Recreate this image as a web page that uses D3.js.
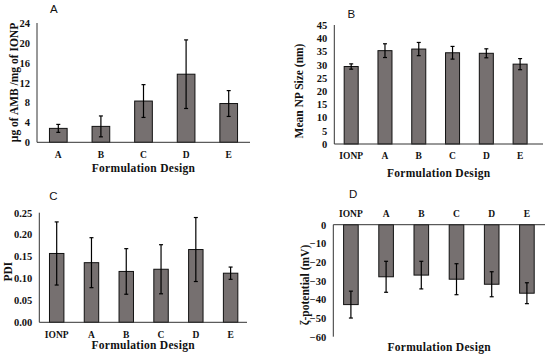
<!DOCTYPE html>
<html>
<head>
<meta charset="utf-8">
<script src="https://cdn.jsdelivr.net/npm/d3@7"></script>
<style>
  body { margin: 0; background: #fff; }
  svg { display: block; }
  .tick-y, .tick-x, .xtitle, .ytitle { font-family: "Liberation Serif", "Times New Roman", serif; font-weight: bold; fill: #111; }
  .letter { font-family: "Liberation Sans", Arial, sans-serif; fill: #111; }
</style>
</head>
<body>
<svg class="target" width="550" height="356"></svg>
<script>
// panel A: drug loading
const catsA = ["A", "B", "C", "D", "E"];
const loadA = [2.8, 3.2, 8.3, 13.7, 7.8];
const loadErrA = [0.8, 2.1, 3.3, 6.9, 2.6];
const ticksA = [0, 4, 8, 12, 16, 20, 24];

// panel B: mean NP size
const catsB = ["IONP", "A", "B", "C", "D", "E"];
const sizeB = [29.3, 35.3, 35.9, 34.5, 34.3, 30.2];
const sizeErrB = [1.0, 2.6, 2.5, 2.4, 1.7, 2.1];
const ticksB = [0, 5, 10, 15, 20, 25, 30, 35, 40, 45];

// panel C: PDI
const catsC = ["IONP", "A", "B", "C", "D", "E"];
const pdiC = [0.157, 0.136, 0.116, 0.121, 0.166, 0.112];
const pdiErrC = [0.072, 0.057, 0.052, 0.056, 0.073, 0.014];
const ticksC = [0, 0.05, 0.10, 0.15, 0.20, 0.25];

// panel D: zeta potential
const catsD = ["IONP", "A", "B", "C", "D", "E"];
const zetaD = [-42.8, -27.9, -27.0, -29.2, -31.9, -36.7];
const zetaErrD = [7.2, 8.3, 7.4, 8.3, 6.7, 5.6];
const ticksD = [0, -10, -20, -30, -40, -50, -60];

const svg = d3.select(".target");

function panel(opt) {
  const g = svg.append("g");
  const x = d3.scaleBand()
    .domain(opt.cats)
    .range(opt.xr)
    .paddingInner(0.585)
    .paddingOuter(0.2925);
  const y = d3.scaleLinear().domain(opt.yd).range(opt.yr);
  const data = opt.cats.map((c, i) => ({ c: c, v: opt.vals[i], e: opt.errs[i] }));

  // bars
  g.selectAll(".bar")
    .data(data)
    .enter()
    .append("rect")
    .attr("x", d => x(d.c))
    .attr("width", x.bandwidth())
    .attr("y", d => Math.min(y(d.v), y(0)))
    .attr("height", d => Math.abs(y(d.v) - y(0)))
    .style("fill", "#767070")
    .style("stroke", "#111")
    .style("stroke-width", 1);

  // error bars
  const eb = g.selectAll(".err").data(data).enter().append("g");
  const cx = d => x(d.c) + x.bandwidth() / 2;
  eb.append("line")
    .attr("x1", cx).attr("x2", cx)
    .attr("y1", d => y(d.v - d.e)).attr("y2", d => y(d.v + d.e));
  eb.append("line")
    .attr("x1", d => cx(d) - 2).attr("x2", d => cx(d) + 2)
    .attr("y1", d => y(d.v + d.e)).attr("y2", d => y(d.v + d.e));
  eb.append("line")
    .attr("x1", d => cx(d) - 2).attr("x2", d => cx(d) + 2)
    .attr("y1", d => y(d.v - d.e)).attr("y2", d => y(d.v - d.e));
  eb.selectAll("line").style("stroke", "#000").style("stroke-width", 1.2);

  // axes
  const yAxis = d3.axisLeft(y).tickValues(opt.ticks).tickSize(0).tickPadding(7)
    .tickFormat(opt.fmt || d3.format("d"));
  const ya = g.append("g").attr("transform", `translate(${opt.xr[0]},0)`).call(yAxis);
  ya.select(".domain").remove();
  ya.selectAll("text").attr("class", "tick-y").style("font-size", "10.5px");
  g.append("line")
    .attr("x1", opt.xr[0]).attr("x2", opt.xr[0])
    .attr("y1", y(opt.yd[0])).attr("y2", y(opt.yd[1]))
    .style("stroke", "#333").style("stroke-width", 1);
  g.append("line")
    .attr("x1", opt.xr[0]).attr("x2", opt.xEnd)
    .attr("y1", y(0)).attr("y2", y(0))
    .style("stroke", "#333").style("stroke-width", 1);

  g.selectAll(".tick-x")
    .data(opt.cats)
    .enter()
    .append("text")
    .attr("class", "tick-x")
    .attr("x", d => x(d) + x.bandwidth() / 2)
    .attr("y", y(0) + opt.labDy)
    .attr("text-anchor", "middle")
    .style("font-size", "9.5px")
    .text(d => d);

  g.append("text")
    .attr("class", "xtitle")
    .attr("x", (opt.xr[0] + opt.xEnd) / 2)
    .attr("y", opt.titleY)
    .attr("text-anchor", "middle")
    .style("font-size", "11.5px")
    .style("letter-spacing", "0.3px")
    .text("Formulation Design");

  g.append("text")
    .attr("class", "ytitle")
    .attr("transform", `translate(${opt.yl[0]},${opt.yl[1]}) rotate(-90)`)
    .attr("dy", "0.35em")
    .attr("text-anchor", "middle")
    .style("font-size", "11.5px")
    .text(opt.ylabel);

  g.append("text")
    .attr("class", "letter")
    .attr("x", opt.letter[0])
    .attr("y", opt.letter[1])
    .style("font-size", "11.5px")
    .text(opt.name);
}

panel({
  name: "A", cats: catsA, vals: loadA, errs: loadErrA, ticks: ticksA,
  xr: [37, 250], xEnd: 250, yd: [0, 24], yr: [142.3, 23],
  labDy: 15.5, titleY: 172, ylabel: "µg of AMB /mg of IONP", yl: [13.5, 82.5], letter: [50, 12.7]
});
panel({
  name: "B", cats: catsB, vals: sizeB, errs: sizeErrB, ticks: ticksB,
  xr: [334.3, 537], xEnd: 543, yd: [0, 45], yr: [144, 25],
  labDy: 15, titleY: 176.5, ylabel: "Mean NP Size (nm)", yl: [299, 91], letter: [347.5, 18.3]
});
panel({
  name: "C", cats: catsC, vals: pdiC, errs: pdiErrC, ticks: ticksC, fmt: d3.format(".2f"),
  xr: [39.3, 248], xEnd: 247, yd: [0, 0.25], yr: [322.3, 212.7],
  labDy: 16, titleY: 349, ylabel: "PDI", yl: [7.5, 271.7], letter: [49.3, 200]
});
panel({
  name: "D", cats: catsD, vals: zetaD, errs: zetaErrD, ticks: ticksD,
  xr: [333.3, 544.5], xEnd: 545, yd: [0, -60], yr: [224.7, 336.7],
  labDy: -7.5, titleY: 350.5, ylabel: "ζ-potential (mV)", yl: [305, 285], letter: [349, 197.7]
});
</script>
</body>
</html>
